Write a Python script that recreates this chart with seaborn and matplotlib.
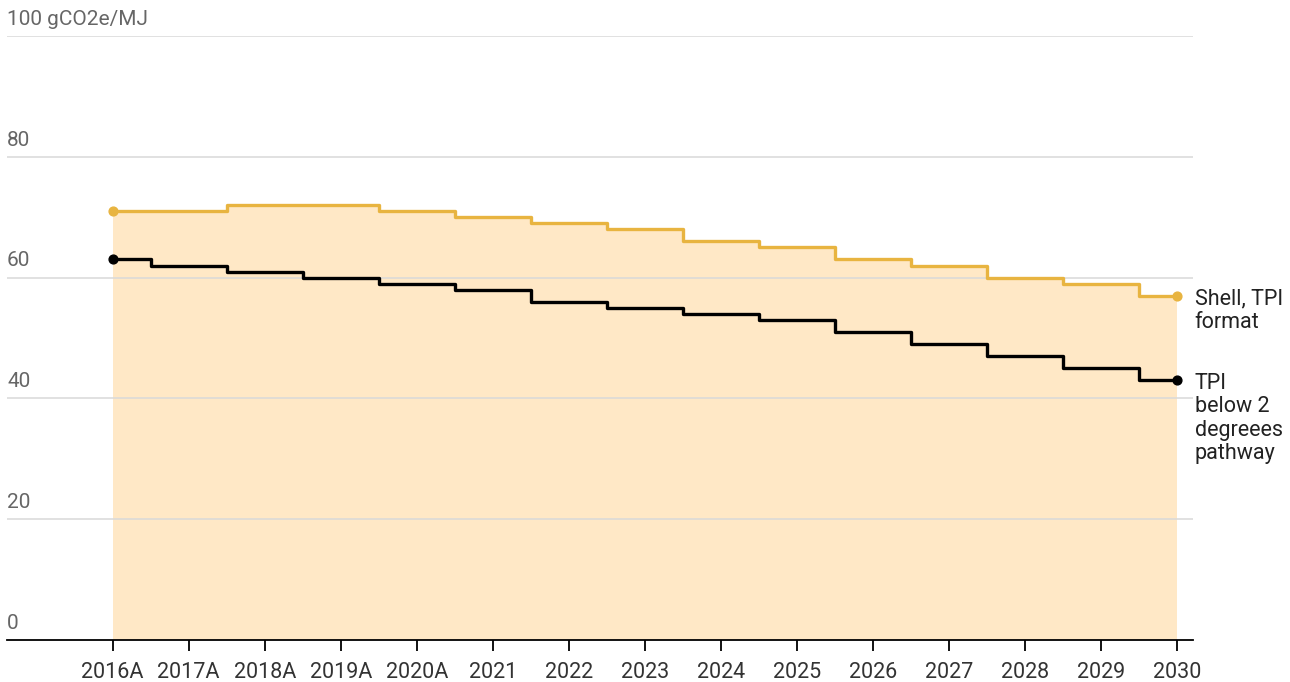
import pandas as pd
import seaborn as sns
import matplotlib.pyplot as plt

years = ['2016A', '2017A', '2018A', '2019A', '2020A', '2021', '2022', '2023',
         '2024', '2025', '2026', '2027', '2028', '2029', '2030']
shell = [71, 71, 72, 72, 71, 70, 69, 68, 66, 65, 63, 62, 60, 59, 57]
tpi = [63, 62, 61, 60, 59, 58, 56, 55, 54, 53, 51, 49, 47, 45, 43]

df = pd.DataFrame({'year': years, 'x': range(len(years)), 'shell': shell, 'tpi': tpi})

sns.set_style('white')
plt.rcParams['font.family'] = ['Roboto', 'DejaVu Sans']

yellow = '#E8B440'
fig = plt.figure(figsize=(12.9, 6.82), dpi=100)
ax = fig.add_axes([7 / 1290, 1 - 640 / 682, (1193 - 7) / 1290, (640 - 36) / 682])

# fill under the Shell line
ax.fill_between(df['x'], df['shell'], 0, step='mid', color='#FFE4BC', alpha=0.85,
                linewidth=0, zorder=1)

for v in [20, 40, 60, 80, 100]:
    ax.axhline(v, color='#d9d9d9', lw=1.1, zorder=2)

sns.lineplot(data=df, x='x', y='shell', color=yellow, lw=2.4, drawstyle='steps-mid',
             ax=ax, zorder=3)
sns.lineplot(data=df, x='x', y='tpi', color='black', lw=2.4, drawstyle='steps-mid',
             ax=ax, zorder=3)
ax.scatter(df['x'].iloc[[0, -1]], df['shell'].iloc[[0, -1]], color=yellow, s=40, zorder=4)
ax.scatter(df['x'].iloc[[0, -1]], df['tpi'].iloc[[0, -1]], color='black', s=40, zorder=4)

ax.set_xlim(-1.39, 14.21)
ax.set_ylim(0, 100)

for s in ['top', 'right', 'left']:
    ax.spines[s].set_visible(False)
ax.spines['bottom'].set_color('black')
ax.spines['bottom'].set_linewidth(1.3)
ax.spines['bottom'].set_zorder(5)

ax.set_xticks(df['x'])
ax.set_xticklabels(years, fontsize=15.5, color='#333333')
ax.tick_params(axis='x', length=8, width=1.3, color='black', pad=8, bottom=True)
ax.set_yticks([])
ax.set_xlabel('')
ax.set_ylabel('')

ylabels = ['0', '20', '40', '60', '80', '100 gCO2e/MJ']
for v, lab in zip([0, 20, 40, 60, 80, 100], ylabels):
    ax.text(0, v + 1.2, lab, transform=ax.get_yaxis_transform(), fontsize=15,
            color='#666666', va='bottom', ha='left')

ax.text(14.23, 58.2, 'Shell, TPI\nformat', fontsize=15.5, color='#222222',
        va='top', ha='left', linespacing=1.15, clip_on=False)
ax.text(14.23, 44.2, 'TPI\nbelow 2\ndegreees\npathway', fontsize=15.5, color='#222222',
        va='top', ha='left', linespacing=1.15, clip_on=False)

fig.savefig('out.png', dpi=100)
